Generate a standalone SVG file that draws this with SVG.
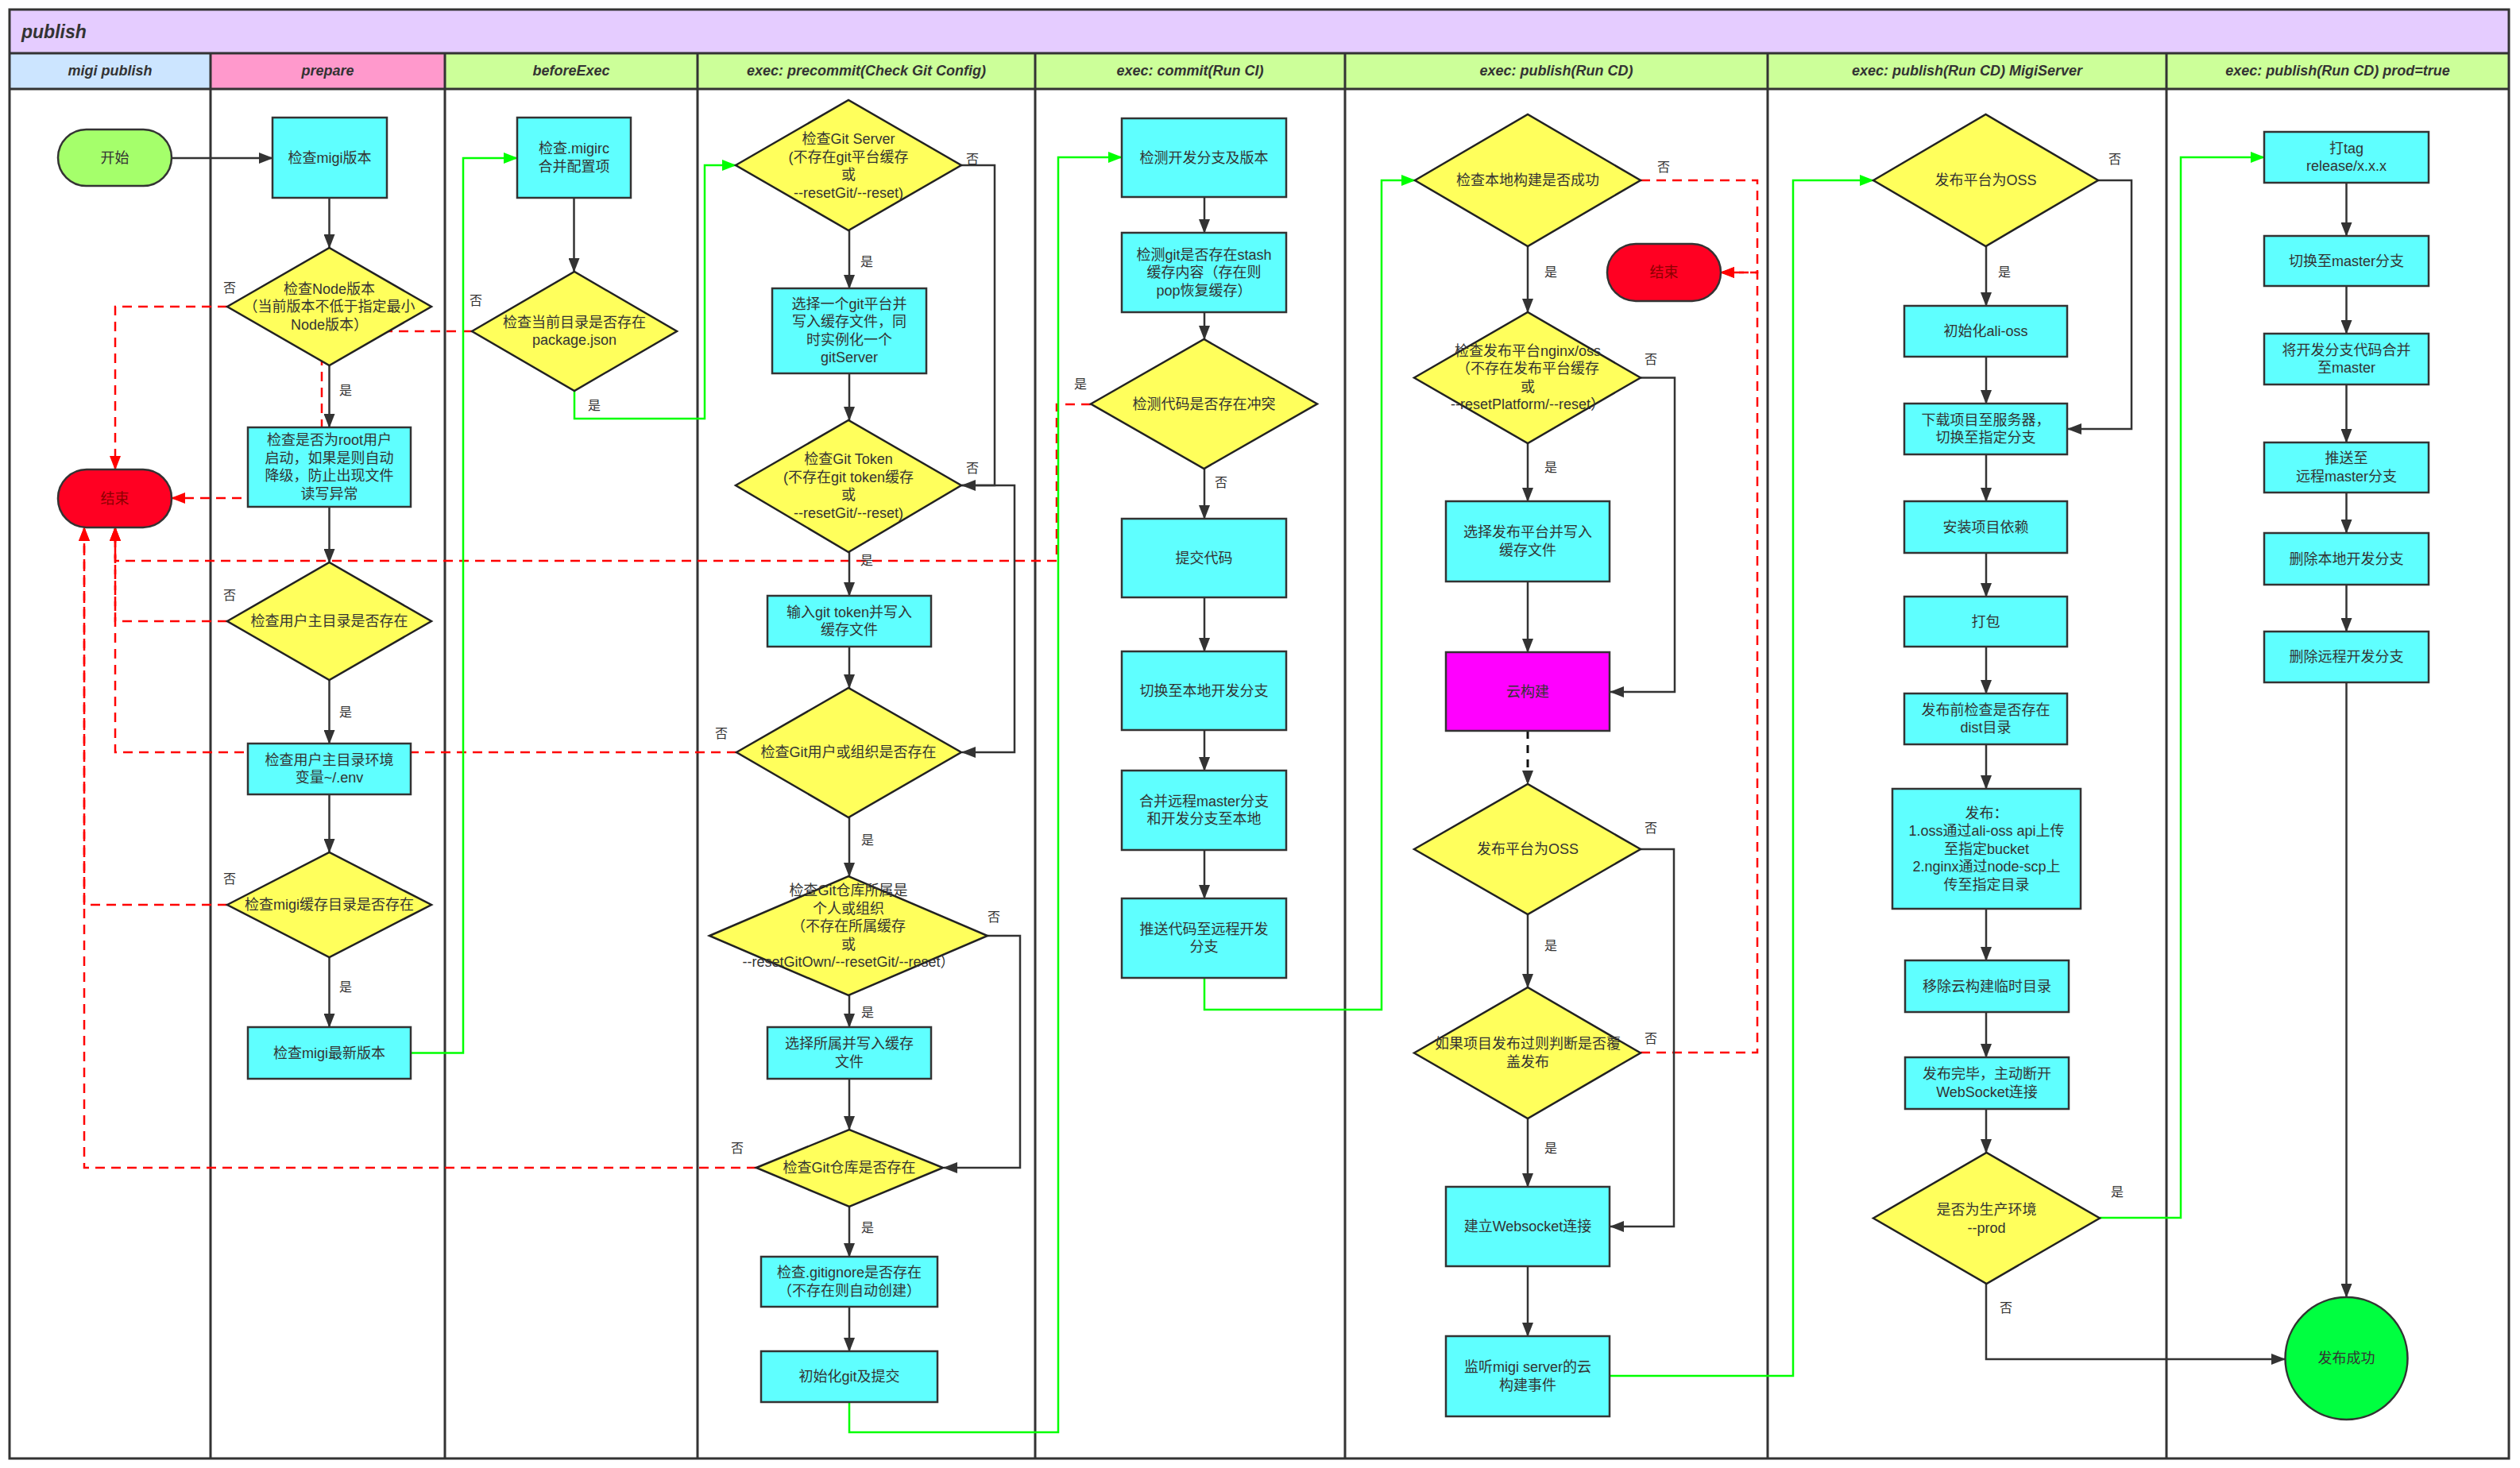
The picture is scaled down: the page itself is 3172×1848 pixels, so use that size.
<svg xmlns="http://www.w3.org/2000/svg" width="3172" height="1848" viewBox="0 0 3172 1848">
<style>
.box{fill:#5fffff;stroke:#333;stroke-width:2.5}
.dia{fill:#ffff5c;stroke:#222;stroke-width:2.5}
.t{font-family:"Liberation Sans","Noto Sans CJK SC",sans-serif;font-size:18px;fill:#333;text-anchor:middle;dominant-baseline:central}
.lbl{font-size:16px}
.hd{font-weight:bold;font-style:italic}
.lane{fill:none;stroke:#333;stroke-width:3}
.e{fill:none;stroke:#333;stroke-width:2.5;marker-end:url(#ab)}
.ed{fill:none;stroke:#111;stroke-width:3;stroke-dasharray:10 8;marker-end:url(#ab)}
.r{fill:none;stroke:#ff0000;stroke-width:2.5;stroke-dasharray:12 8;marker-end:url(#ar)}
.g{fill:none;stroke:#00ff00;stroke-width:2.5;marker-end:url(#ag)}
.endn{fill:#ff0022;stroke:#333;stroke-width:2.5}
.endt{fill:#8b0000}
</style>
<defs>
<marker id="ab" viewBox="0 0 18 14" refX="17" refY="7" markerWidth="18" markerHeight="14" markerUnits="userSpaceOnUse" orient="auto"><path d="M0,0 L18,7 L0,14 z" fill="#333"/></marker>
<marker id="ar" viewBox="0 0 18 14" refX="17" refY="7" markerWidth="18" markerHeight="14" markerUnits="userSpaceOnUse" orient="auto"><path d="M0,0 L18,7 L0,14 z" fill="#ff0000"/></marker>
<marker id="ag" viewBox="0 0 18 14" refX="17" refY="7" markerWidth="18" markerHeight="14" markerUnits="userSpaceOnUse" orient="auto"><path d="M0,0 L18,7 L0,14 z" fill="#00ff00"/></marker>
</defs>
<rect x="0" y="0" width="3172" height="1848" fill="#ffffff"/>
<g id="pool">
<rect x="12" y="12" width="3146" height="55" fill="#e5ccff"/>
<rect x="12" y="67" width="253" height="45" fill="#cce5ff"/>
<rect x="265" y="67" width="295" height="45" fill="#ff99cc"/>
<rect x="560" y="67" width="2598" height="45" fill="#ccff99"/>
<rect x="12" y="12" width="3146" height="1824" class="lane"/>
<path class="lane" d="M12,67 H3158 M12,112 H3158 M265,67 V1836 M560,67 V1836 M878,67 V1836 M1303,67 V1836 M1693,67 V1836 M2225,67 V1836 M2727,67 V1836"/>
<text class="t hd" x="27" y="40" style="font-size:23px;text-anchor:start">publish</text>
<text class="t hd" x="138.5" y="89">migi publish</text>
<text class="t hd" x="412.5" y="89">prepare</text>
<text class="t hd" x="719" y="89">beforeExec</text>
<text class="t hd" x="1090.5" y="89">exec: precommit(Check Git Config)</text>
<text class="t hd" x="1498" y="89">exec: commit(Run CI)</text>
<text class="t hd" x="1959" y="89">exec: publish(Run CD)</text>
<text class="t hd" x="2476" y="89">exec: publish(Run CD) MigiServer</text>
<text class="t hd" x="2942.5" y="89">exec: publish(Run CD) prod=true</text>
</g>
<g id="connectors">
<path class="r" d="M286,386 H145 V591"/>
<path class="r" d="M594,417 H405 V627 H216"/>
<path class="r" d="M286,782 H145 V664"/>
<path class="r" d="M1373,509 H1330 V706 H145 V664"/>
<path class="r" d="M927,947 H145 V664"/>
<path class="r" d="M286,1139 H106 V664"/>
<path class="r" d="M952,1470 H106 V664"/>
<path class="r" d="M2065,227 H2212 V343 H2166"/>
<path class="r" d="M2065,1325 H2212 V343 H2166"/>
<path class="g" d="M517,1325.5 H583 V199 H651"/>
<path class="g" d="M723,492 V527 H887 V208 H926"/>
<path class="g" d="M1069,1765 V1803 H1332 V198 H1412"/>
<path class="g" d="M1516,1231 V1271 H1739 V227 H1781"/>
<path class="g" d="M2026,1732 H2257 V227 H2358"/>
<path class="g" d="M2643,1533 H2745 V198 H2850"/>
<path class="e" d="M216,199 H343"/>
<path class="e" d="M414.5,249 V312"/>
<path class="e" d="M414.5,460 V538"/>
<path class="e" d="M414.5,638 V708"/>
<path class="e" d="M414.5,856 V936"/>
<path class="e" d="M414.5,1000 V1073"/>
<path class="e" d="M414.5,1205 V1293"/>
<path class="e" d="M722.5,249 V342"/>
<path class="e" d="M1069,290 V363"/>
<path class="e" d="M1069,470 V529"/>
<path class="e" d="M1069,695 V750"/>
<path class="e" d="M1069,814 V866"/>
<path class="e" d="M1069,1029 V1103"/>
<path class="e" d="M1069,1253 V1293"/>
<path class="e" d="M1069,1358 V1422"/>
<path class="e" d="M1069,1519 V1582"/>
<path class="e" d="M1069,1645 V1701"/>
<path class="e" d="M1210,208 H1252 V611 H1211"/>
<path class="e" d="M1210,611 H1277 V947 H1211"/>
<path class="e" d="M1243,1178 H1284 V1470 H1188"/>
<path class="e" d="M1516,248 V293"/>
<path class="e" d="M1516,393 V427"/>
<path class="e" d="M1516,590 V653"/>
<path class="e" d="M1516,752 V820"/>
<path class="e" d="M1516,919 V970"/>
<path class="e" d="M1516,1070 V1131"/>
<path class="e" d="M1923,310 V393"/>
<path class="e" d="M1923,558 V631"/>
<path class="e" d="M1923,732 V821"/>
<path class="ed" d="M1923,920 V987"/>
<path class="e" d="M1923,1151 V1243"/>
<path class="e" d="M1923,1408 V1494"/>
<path class="e" d="M1923,1594 V1682"/>
<path class="e" d="M2065,475.5 H2108 V871 H2027"/>
<path class="e" d="M2065,1069 H2107 V1544 H2027"/>
<path class="e" d="M2500,310 V385"/>
<path class="e" d="M2500,449 V508"/>
<path class="e" d="M2500,572 V631"/>
<path class="e" d="M2500,696 V751"/>
<path class="e" d="M2500,814 V873"/>
<path class="e" d="M2500,937 V993"/>
<path class="e" d="M2500,1144 V1209"/>
<path class="e" d="M2500,1274 V1331"/>
<path class="e" d="M2500,1396 V1451"/>
<path class="e" d="M2641,227 H2683 V540 H2603"/>
<path class="e" d="M2500,1616 V1711 H2876"/>
<path class="e" d="M2953.5,230 V297"/>
<path class="e" d="M2953.5,360 V420"/>
<path class="e" d="M2953.5,484 V557"/>
<path class="e" d="M2953.5,620 V671"/>
<path class="e" d="M2953.5,736 V795"/>
<path class="e" d="M2953.5,859 V1633"/>
<g class="t lbl">
<text x="289" y="362">否</text><text x="435" y="491">是</text>
<text x="289" y="749">否</text><text x="435" y="896">是</text>
<text x="289" y="1106">否</text><text x="435" y="1242">是</text>
<text x="599" y="378">否</text><text x="748" y="510">是</text>
<text x="1224" y="200">否</text><text x="1091" y="329">是</text>
<text x="1224" y="589">否</text><text x="1091" y="705">是</text>
<text x="908" y="923">否</text><text x="1092" y="1057">是</text>
<text x="1251" y="1154">否</text><text x="1092" y="1274">是</text>
<text x="928" y="1445">否</text><text x="1092" y="1545">是</text>
<text x="1360" y="483">是</text><text x="1537" y="607">否</text>
<text x="2094" y="210">否</text><text x="1952" y="342">是</text>
<text x="2078" y="452">否</text><text x="1952" y="588">是</text>
<text x="2078" y="1042">否</text><text x="1952" y="1190">是</text>
<text x="2078" y="1307">否</text><text x="1952" y="1445">是</text>
<text x="2662" y="200">否</text><text x="2523" y="342">是</text>
<text x="2665" y="1500">是</text><text x="2525" y="1646">否</text>
</g>
</g>
<g id="start"><rect x="73" y="163" width="143" height="71" rx="35.5" fill="#a5ff6b" stroke="#333" stroke-width="2.5"/><text class="t" x="144.5" y="199">开始</text></g>
<g id="end1"><rect class="endn" x="73" y="591" width="143" height="73" rx="36"/><text class="t endt" x="144.5" y="627.5">结束</text></g>
<g id="p1"><rect class="box" x="343" y="148" width="144" height="101"/><text class="t" x="415" y="198.5">检查migi版本</text></g>
<g id="p2"><polygon class="dia" points="286,386 414.5,312 543,386 414.5,460"/><text class="t"><tspan x="414.5" y="363.5">检查Node版本</tspan><tspan x="414.5" y="386">（当前版本不低于指定最小</tspan><tspan x="414.5" y="408.5">Node版本）</tspan></text></g>
<g id="p3"><rect class="box" x="312" y="538" width="205" height="100"/><text class="t"><tspan x="414.5" y="554.25">检查是否为root用户</tspan><tspan x="414.5" y="576.75">启动，如果是则自动</tspan><tspan x="414.5" y="599.25">降级，防止出现文件</tspan><tspan x="414.5" y="621.75">读写异常</tspan></text></g>
<g id="p4"><polygon class="dia" points="286,782 414.5,708 543,782 414.5,856"/><text class="t" x="414.5" y="782">检查用户主目录是否存在</text></g>
<g id="p5"><rect class="box" x="312" y="936" width="205" height="64"/><text class="t"><tspan x="414.5" y="956.75">检查用户主目录环境</tspan><tspan x="414.5" y="979.25">变量~/.env</tspan></text></g>
<g id="p6"><polygon class="dia" points="286,1139 414.5,1073 543,1139 414.5,1205"/><text class="t" x="414.5" y="1139">检查migi缓存目录是否存在</text></g>
<g id="p7"><rect class="box" x="312" y="1293" width="205" height="65"/><text class="t" x="414.5" y="1325.5">检查migi最新版本</text></g>
<g id="b1"><rect class="box" x="651" y="148" width="143" height="101"/><text class="t"><tspan x="722.5" y="187.25">检查.migirc</tspan><tspan x="722.5" y="209.75">合并配置项</tspan></text></g>
<g id="b2"><polygon class="dia" points="594,417 723,342 852,417 723,492"/><text class="t"><tspan x="723" y="405.75">检查当前目录是否存在</tspan><tspan x="723" y="428.25">package.json</tspan></text></g>
<g id="c1"><polygon class="dia" points="926,208 1068,126 1210,208 1068,290"/><text class="t"><tspan x="1068" y="175.25">检查Git Server</tspan><tspan x="1068" y="197.75">(不存在git平台缓存</tspan><tspan x="1068" y="220.25">或</tspan><tspan x="1068" y="242.75">--resetGit/--reset)</tspan></text></g>
<g id="c2"><rect class="box" x="972" y="363" width="194" height="107"/><text class="t"><tspan x="1069" y="382.75">选择一个git平台并</tspan><tspan x="1069" y="405.25">写入缓存文件，同</tspan><tspan x="1069" y="427.75">时实例化一个</tspan><tspan x="1069" y="450.25">gitServer</tspan></text></g>
<g id="c3"><polygon class="dia" points="926,611 1068,529 1210,611 1068,695"/><text class="t"><tspan x="1068" y="578.25">检查Git Token</tspan><tspan x="1068" y="600.75">(不存在git token缓存</tspan><tspan x="1068" y="623.25">或</tspan><tspan x="1068" y="645.75">--resetGit/--reset)</tspan></text></g>
<g id="c4"><rect class="box" x="966" y="750" width="206" height="64"/><text class="t"><tspan x="1069" y="770.75">输入git token并写入</tspan><tspan x="1069" y="793.25">缓存文件</tspan></text></g>
<g id="c5"><polygon class="dia" points="927,947 1068,866 1210,947 1068,1029"/><text class="t" x="1068" y="947">检查Git用户或组织是否存在</text></g>
<g id="c6"><polygon class="dia" points="893,1178 1068,1103 1243,1178 1068,1253"/><text class="t"><tspan x="1068" y="1121">检查Git仓库所属是</tspan><tspan x="1068" y="1143.5">个人或组织</tspan><tspan x="1068" y="1166">（不存在所属缓存</tspan><tspan x="1068" y="1188.5">或</tspan><tspan x="1068" y="1211">--resetGitOwn/--resetGit/--reset）</tspan></text></g>
<g id="c7"><rect class="box" x="966" y="1293" width="206" height="65"/><text class="t"><tspan x="1069" y="1314.25">选择所属并写入缓存</tspan><tspan x="1069" y="1336.75">文件</tspan></text></g>
<g id="c8"><polygon class="dia" points="952,1470 1069,1422 1187,1470 1069,1519"/><text class="t" x="1069" y="1470">检查Git仓库是否存在</text></g>
<g id="c9"><rect class="box" x="958" y="1582" width="222" height="63"/><text class="t"><tspan x="1069" y="1602.25">检查.gitignore是否存在</tspan><tspan x="1069" y="1624.75">（不存在则自动创建）</tspan></text></g>
<g id="c10"><rect class="box" x="958" y="1701" width="222" height="64"/><text class="t" x="1069" y="1733">初始化git及提交</text></g>
<g id="m1"><rect class="box" x="1412" y="149" width="207" height="99"/><text class="t" x="1515.5" y="198.5">检测开发分支及版本</text></g>
<g id="m2"><rect class="box" x="1412" y="293" width="207" height="100"/><text class="t"><tspan x="1515.5" y="320.5">检测git是否存在stash</tspan><tspan x="1515.5" y="343">缓存内容（存在则</tspan><tspan x="1515.5" y="365.5">pop恢复缓存）</tspan></text></g>
<g id="m3"><polygon class="dia" points="1373,508.5 1515.5,427 1658,508.5 1515.5,590"/><text class="t" x="1515.5" y="508.5">检测代码是否存在冲突</text></g>
<g id="m4"><rect class="box" x="1412" y="653" width="207" height="99"/><text class="t" x="1515.5" y="702.5">提交代码</text></g>
<g id="m5"><rect class="box" x="1412" y="820" width="207" height="99"/><text class="t" x="1515.5" y="869.5">切换至本地开发分支</text></g>
<g id="m6"><rect class="box" x="1412" y="970" width="207" height="100"/><text class="t"><tspan x="1515.5" y="1008.75">合并远程master分支</tspan><tspan x="1515.5" y="1031.25">和开发分支至本地</tspan></text></g>
<g id="m7"><rect class="box" x="1412" y="1131" width="207" height="100"/><text class="t"><tspan x="1515.5" y="1169.75">推送代码至远程开发</tspan><tspan x="1515.5" y="1192.25">分支</tspan></text></g>
<g id="d1"><polygon class="dia" points="1781,227 1923,144 2065,227 1923,310"/><text class="t" x="1923" y="227">检查本地构建是否成功</text></g>
<g id="end2"><rect class="endn" x="2023" y="307" width="143" height="72" rx="36"/><text class="t endt" x="2094.5" y="343">结束</text></g>
<g id="d2"><polygon class="dia" points="1780,475.5 1923,393 2065,475.5 1923,558"/><text class="t"><tspan x="1923" y="441.75">检查发布平台nginx/oss</tspan><tspan x="1923" y="464.25">（不存在发布平台缓存</tspan><tspan x="1923" y="486.75">或</tspan><tspan x="1923" y="509.25">--resetPlatform/--reset）</tspan></text></g>
<g id="d3"><rect class="box" x="1820" y="631" width="206" height="101"/><text class="t"><tspan x="1923" y="670.25">选择发布平台并写入</tspan><tspan x="1923" y="692.75">缓存文件</tspan></text></g>
<g id="d4"><rect x="1820" y="821" width="206" height="99" fill="#ff00ff" stroke="#333" stroke-width="2.5"/><text class="t" x="1923" y="870.5">云构建</text></g>
<g id="d5"><polygon class="dia" points="1780,1069 1923,987 2065,1069 1923,1151"/><text class="t" x="1923" y="1069">发布平台为OSS</text></g>
<g id="d6"><polygon class="dia" points="1780,1325.5 1923,1243 2065,1325.5 1923,1408"/><text class="t"><tspan x="1923" y="1314.25">如果项目发布过则判断是否覆</tspan><tspan x="1923" y="1336.75">盖发布</tspan></text></g>
<g id="d7"><rect class="box" x="1820" y="1494" width="206" height="100"/><text class="t" x="1923" y="1544">建立Websocket连接</text></g>
<g id="d8"><rect class="box" x="1820" y="1682" width="206" height="101"/><text class="t"><tspan x="1923" y="1721.25">监听migi server的云</tspan><tspan x="1923" y="1743.75">构建事件</tspan></text></g>
<g id="s1"><polygon class="dia" points="2358,227 2499.5,144 2641,227 2499.5,310"/><text class="t" x="2499.5" y="227">发布平台为OSS</text></g>
<g id="s2"><rect class="box" x="2397" y="385" width="205" height="64"/><text class="t" x="2499.5" y="417">初始化ali-oss</text></g>
<g id="s3"><rect class="box" x="2397" y="508" width="205" height="64"/><text class="t"><tspan x="2499.5" y="528.75">下载项目至服务器，</tspan><tspan x="2499.5" y="551.25">切换至指定分支</tspan></text></g>
<g id="s4"><rect class="box" x="2397" y="631" width="205" height="65"/><text class="t" x="2499.5" y="663.5">安装项目依赖</text></g>
<g id="s5"><rect class="box" x="2397" y="751" width="205" height="63"/><text class="t" x="2499.5" y="782.5">打包</text></g>
<g id="s6"><rect class="box" x="2397" y="873" width="205" height="64"/><text class="t"><tspan x="2499.5" y="893.75">发布前检查是否存在</tspan><tspan x="2499.5" y="916.25">dist目录</tspan></text></g>
<g id="s7"><rect class="box" x="2382" y="993" width="237" height="151"/><text class="t"><tspan x="2500.5" y="1023.5">发布：</tspan><tspan x="2500.5" y="1046">1.oss通过ali-oss api上传</tspan><tspan x="2500.5" y="1068.5">至指定bucket</tspan><tspan x="2500.5" y="1091">2.nginx通过node-scp上</tspan><tspan x="2500.5" y="1113.5">传至指定目录</tspan></text></g>
<g id="s8"><rect class="box" x="2398" y="1209" width="206" height="65"/><text class="t" x="2501" y="1241.5">移除云构建临时目录</text></g>
<g id="s9"><rect class="box" x="2398" y="1331" width="206" height="65"/><text class="t"><tspan x="2501" y="1352.25">发布完毕，主动断开</tspan><tspan x="2501" y="1374.75">WebSocket连接</tspan></text></g>
<g id="s10"><polygon class="dia" points="2358,1533.5 2500.5,1451 2643,1533.5 2500.5,1616"/><text class="t"><tspan x="2500.5" y="1523">是否为生产环境</tspan><tspan x="2500.5" y="1545.5">--prod</tspan></text></g>
<g id="r1"><rect class="box" x="2850" y="166" width="207" height="64"/><text class="t"><tspan x="2953.5" y="186.75">打tag</tspan><tspan x="2953.5" y="209.25">release/x.x.x</tspan></text></g>
<g id="r2"><rect class="box" x="2850" y="297" width="207" height="63"/><text class="t" x="2953.5" y="328.5">切换至master分支</text></g>
<g id="r3"><rect class="box" x="2850" y="420" width="207" height="64"/><text class="t"><tspan x="2953.5" y="440.75">将开发分支代码合并</tspan><tspan x="2953.5" y="463.25">至master</tspan></text></g>
<g id="r4"><rect class="box" x="2850" y="557" width="207" height="63"/><text class="t"><tspan x="2953.5" y="577.25">推送至</tspan><tspan x="2953.5" y="599.75">远程master分支</tspan></text></g>
<g id="r5"><rect class="box" x="2850" y="671" width="207" height="65"/><text class="t" x="2953.5" y="703.5">删除本地开发分支</text></g>
<g id="r6"><rect class="box" x="2850" y="795" width="207" height="64"/><text class="t" x="2953.5" y="827">删除远程开发分支</text></g>
<g id="success"><circle cx="2953.5" cy="1710" r="77" fill="#00ff40" stroke="#333" stroke-width="2.5"/><text class="t" x="2953.5" y="1710">发布成功</text></g>
</svg>
